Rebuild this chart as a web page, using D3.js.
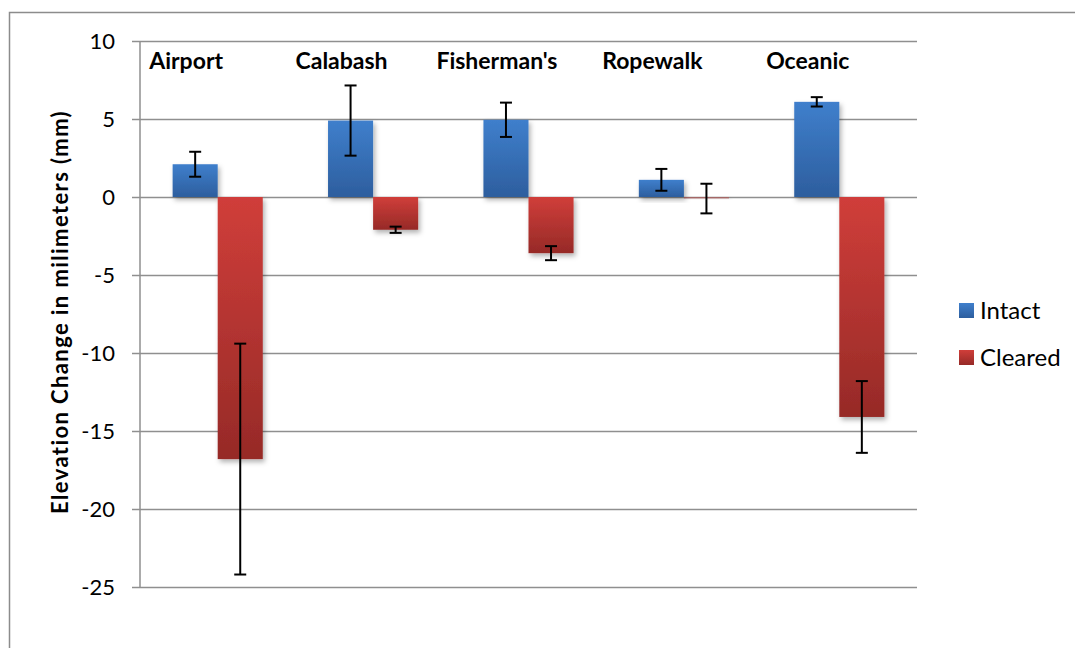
<!DOCTYPE html>
<html>
<head>
<meta charset="utf-8">
<script src="https://cdn.jsdelivr.net/npm/d3@7"></script>
<style>
body { margin: 0; background: #fff; }
text { font-family: Lato, "Open Sans", sans-serif; }
</style>
</head>
<body>
<script>
var width = 1075;
var height = 648;

// data
var sites = ["Airport", "Calabash", "Fisherman's", "Ropewalk", "Oceanic"];
var series = ["Intact", "Cleared"];
var intact = [2.1, 4.9, 4.95, 1.1, 6.1];
var intactErr = [0.8, 2.25, 1.1, 0.7, 0.3];
var cleared = [-16.8, -2.1, -3.6, -0.1, -14.1];
var clearedErr = [7.4, 0.2, 0.45, 0.95, 2.3];
var yTicks = [10, 5, 0, -5, -10, -15, -20, -25];

var colors = {
  Intact: ["#3f7fcc", "#2d5e9e"],
  Cleared: ["#d03e3a", "#962a27"]
};

var svg = d3.select("body")
    .append("svg")
    .attr("width", width)
    .attr("height", height);

var defs = svg.append("defs");
series.forEach(function(s) {
  var g = defs.append("linearGradient")
      .attr("id", "grad-" + s)
      .attr("x1", 0).attr("y1", 0).attr("x2", 0).attr("y2", 1);
  g.append("stop").attr("offset", "0%").attr("stop-color", colors[s][0]);
  g.append("stop").attr("offset", "100%").attr("stop-color", colors[s][1]);
});
var filt = defs.append("filter").attr("id", "shadow")
    .attr("x", "-20%").attr("y", "-20%").attr("width", "150%").attr("height", "150%");
filt.append("feDropShadow")
    .attr("dx", 2).attr("dy", 3).attr("stdDeviation", 2.5)
    .attr("flood-color", "#000").attr("flood-opacity", 0.3);

// outer chart border
svg.append("rect")
    .attr("x", 9.5).attr("y", 12.5)
    .attr("width", 1200).attr("height", 800)
    .attr("fill", "none")
    .attr("stroke", "#8c8c8c")
    .attr("stroke-width", 1.5);

var plotLeft = 140, plotRight = 917, plotTop = 41, plotBottom = 587;

var y = d3.scaleLinear()
    .domain([-25, 10])
    .range([plotBottom, plotTop]);

var x = d3.scaleBand()
    .domain(sites)
    .range([plotLeft, plotRight])
    .paddingInner(0.42)
    .paddingOuter(0.21);

var x1 = d3.scaleBand()
    .domain(series)
    .range([0, x.bandwidth()]);

// gridlines
var yAxis = d3.axisLeft(y)
    .tickValues(yTicks)
    .tickSize(-(plotRight - plotLeft))
    .tickSizeOuter(0)
    .tickFormat(function(d) { return String(d); });

var ga = svg.append("g")
    .attr("transform", "translate(" + plotLeft + ",0)")
    .call(yAxis);
ga.select(".domain").remove();
ga.selectAll(".tick line")
    .attr("stroke", "#8f8f8f")
    .attr("stroke-width", 1.5)
    .attr("x1", -8);
ga.selectAll(".tick text")
    .style("font-family", "Lato, sans-serif")
    .style("font-size", "22px")
    .attr("fill", "#000")
    .attr("x", -25);

svg.append("line")
    .attr("x1", plotLeft).attr("x2", plotLeft)
    .attr("y1", plotTop).attr("y2", plotBottom)
    .attr("stroke", "#8f8f8f")
    .attr("stroke-width", 1.5);

// bars
var rows = sites.map(function(s, i) {
  return [
    { site: s, key: "Intact", value: intact[i], err: intactErr[i] },
    { site: s, key: "Cleared", value: cleared[i], err: clearedErr[i] }
  ];
});

var groups = svg.selectAll(".site")
    .data(rows)
    .enter()
    .append("g")
    .attr("class", "site")
    .attr("transform", function(d) { return "translate(" + x(d[0].site) + ",0)"; });

groups.selectAll("rect")
    .data(function(d) { return d; })
    .enter()
    .append("rect")
    .attr("x", function(d) { return x1(d.key); })
    .attr("width", x1.bandwidth())
    .attr("y", function(d) { return y(Math.max(0, d.value)); })
    .attr("height", function(d) { return Math.max(1.5, Math.abs(y(d.value) - y(0))); })
    .attr("fill", function(d) { return "url(#grad-" + d.key + ")"; })
    .attr("opacity", function(d) { return Math.abs(d.value) < 0.2 ? 0.45 : 1; })
    .attr("filter", "url(#shadow)");

// error bars
var cap = 6;
var eb = groups.selectAll(".err")
    .data(function(d) { return d; })
    .enter()
    .append("g")
    .attr("class", "err")
    .attr("transform", function(d) { return "translate(" + (x1(d.key) + x1.bandwidth() / 2) + ",0)"; })
    .attr("stroke", "#000")
    .attr("stroke-width", 2);
eb.append("line")
    .attr("y1", function(d) { return y(d.value + d.err); })
    .attr("y2", function(d) { return y(d.value - d.err); });
eb.append("line")
    .attr("x1", -cap).attr("x2", cap)
    .attr("y1", function(d) { return y(d.value + d.err); })
    .attr("y2", function(d) { return y(d.value + d.err); });
eb.append("line")
    .attr("x1", -cap).attr("x2", cap)
    .attr("y1", function(d) { return y(d.value - d.err); })
    .attr("y2", function(d) { return y(d.value - d.err); });

// site labels
svg.selectAll(".site-label")
    .data(sites)
    .enter()
    .append("text")
    .attr("class", "site-label")
    .attr("x", function(d) { return x(d) + x.bandwidth() * 0.15; })
    .attr("y", 69)
    .attr("text-anchor", "middle")
    .style("font-size", "23px")
    .style("font-weight", "bold")
    .text(function(d) { return d; });

// axis title
svg.append("text")
    .attr("transform", "translate(68,312) rotate(-90)")
    .attr("text-anchor", "middle")
    .style("font-size", "22px")
    .style("font-weight", "bold")
    .style("letter-spacing", "1.4px")
    .text("Elevation Change in milimeters (mm)");

// legend
var legend = svg.selectAll(".legend")
    .data(series)
    .enter()
    .append("g")
    .attr("class", "legend")
    .attr("transform", function(d, i) { return "translate(959," + (303 + i * 47) + ")"; });
legend.append("rect")
    .attr("width", 15)
    .attr("height", 15)
    .attr("fill", function(d) { return "url(#grad-" + d + ")"; });
legend.append("text")
    .attr("x", 21)
    .attr("y", 16)
    .style("font-size", "24px")
    .text(function(d) { return d; });
</script>
</body>
</html>
